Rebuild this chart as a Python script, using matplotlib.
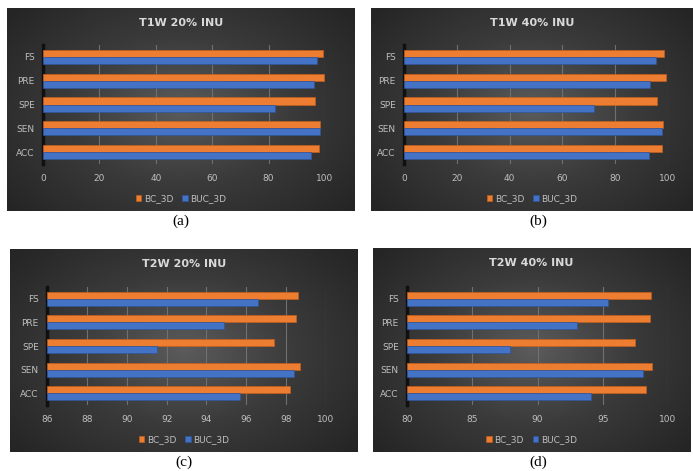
import matplotlib
matplotlib.use("Agg")
import matplotlib.pyplot as plt
import numpy as np
from matplotlib.colors import LinearSegmentedColormap

W, H = 693, 471

# metric order from bottom to top
metrics = ["ACC", "SEN", "SPE", "PRE", "FS"]
series_names = ["BC_3D", "BUC_3D"]

t1w_20_bc = [98.0, 98.4, 96.4, 99.8, 99.2]
t1w_20_buc = [95.0, 98.4, 82.4, 96.0, 97.2]

t1w_40_bc = [97.6, 98.0, 95.8, 99.4, 98.4]
t1w_40_buc = [92.7, 97.7, 72.0, 93.3, 95.5]

t2w_20_bc = [98.2, 98.7, 97.4, 98.5, 98.6]
t2w_20_buc = [95.7, 98.4, 91.5, 94.9, 96.6]

t2w_40_bc = [98.3, 98.8, 97.5, 98.6, 98.7]
t2w_40_buc = [94.1, 98.1, 87.9, 93.0, 95.4]

panels = [
    # title, bc, buc, xlim, xticks, panel box, plot box, caption pos
    ("T1W 20% INU", t1w_20_bc, t1w_20_buc, (0, 100), [0, 20, 40, 60, 80, 100],
     (7, 8, 355, 211), (43, 45, 325, 164), (181, 221)),
    ("T1W 40% INU", t1w_40_bc, t1w_40_buc, (0, 100), [0, 20, 40, 60, 80, 100],
     (371, 8, 693, 211), (404, 45, 668, 164), (538, 221)),
    ("T2W 20% INU", t2w_20_bc, t2w_20_buc, (86, 100), [86, 88, 90, 92, 94, 96, 98, 100],
     (10, 249, 358, 452), (47, 287, 326, 405), (184, 462)),
    ("T2W 40% INU", t2w_40_bc, t2w_40_buc, (80, 100), [80, 85, 90, 95, 100],
     (373, 248, 690, 452), (407, 287, 668, 405), (538, 462)),
]
captions = ["(a)", "(b)", "(c)", "(d)"]

orange = "#ED7D31"
blue = "#4472C4"
label_col = "#bfbfbf"

bg_cmap = LinearSegmentedColormap.from_list("bg", ["#5b5b5b", "#3a3a3a", "#252525"])


def rect(x0, y0, x1, y1):
    return [x0 / W, 1 - y1 / H, (x1 - x0) / W, (y1 - y0) / H]


fig = plt.figure(figsize=(W / 100, H / 100), dpi=100)

gx, gy = np.meshgrid(np.linspace(0, 1, 200), np.linspace(0, 1, 140))
grad = np.sqrt(((gx - 0.5) / 0.65) ** 2 + ((gy - 0.5) / 0.75) ** 2)
grad = np.clip(grad, 0, 1)

for (title, bc, buc, xlim, xticks, pbox, abox, cap), caption in zip(panels, captions):
    bg = fig.add_axes(rect(*pbox))
    bg.imshow(grad, cmap=bg_cmap, extent=[0, 1, 0, 1], aspect="auto", vmin=0, vmax=1)
    bg.set_axis_off()

    ax = fig.add_axes(rect(*abox))
    ax.patch.set_alpha(0)
    y = np.arange(len(metrics))
    h = 0.3
    ax.barh(y + h / 2, np.array(bc) - xlim[0], left=xlim[0], height=h, color=orange,
            edgecolor="#c45f1c", linewidth=0.5, label=series_names[0], zorder=3)
    ax.barh(y - h / 2, np.array(buc) - xlim[0], left=xlim[0], height=h, color=blue,
            edgecolor="#2f559c", linewidth=0.5, label=series_names[1], zorder=3)

    ax.set_xlim(*xlim)
    ax.set_ylim(-0.5, len(metrics) - 0.5)
    ax.set_xticks(xticks)
    ax.set_yticks(y)
    ax.set_yticklabels(metrics)
    ax.tick_params(colors=label_col, labelsize=6.5, length=0)
    ax.tick_params(axis="x", pad=7)
    ax.tick_params(axis="y", pad=6)
    ax.grid(axis="x", color="#707070", linewidth=0.8, zorder=0)
    for s in ["top", "right", "bottom"]:
        ax.spines[s].set_visible(False)
    ax.spines["left"].set_color("#101010")
    ax.spines["left"].set_linewidth(2.5)

    cx = (pbox[0] + pbox[2]) / 2
    fig.text(cx / W, 1 - (pbox[1] + 15) / H, title, ha="center", va="center",
             color="#d9d9d9", fontsize=8, fontweight="bold")
    ax.legend(loc="center", bbox_to_anchor=(cx / W, 1 - (pbox[3] - 12) / H),
              bbox_transform=fig.transFigure, ncol=2, frameon=False,
              handlelength=0.6, handleheight=0.6, handletextpad=0.3,
              columnspacing=1.0, fontsize=6.5, labelcolor=label_col)

    fig.text(cap[0] / W, 1 - cap[1] / H, caption, ha="center", va="center",
             fontsize=11, family="Liberation Serif", color="black")

fig.savefig("out.png", dpi=100)
